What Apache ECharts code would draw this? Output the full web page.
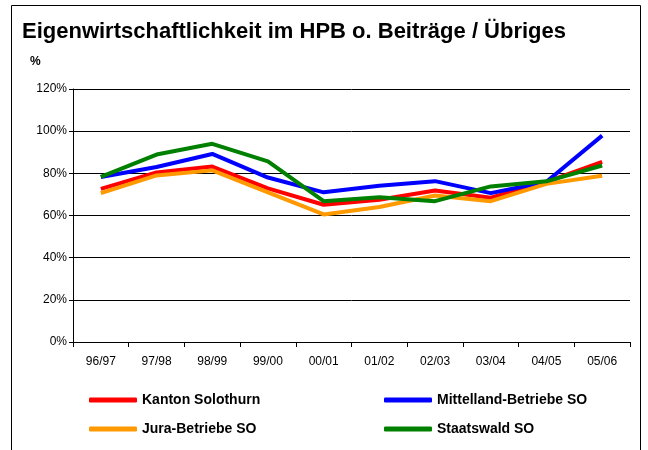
<!DOCTYPE html>
<html>
<head>
<meta charset="utf-8">
<script src="https://cdn.jsdelivr.net/npm/echarts@6/dist/echarts.min.js"></script>
<style>
  html, body { margin: 0; padding: 0; background: #fff; }
  #chart { width: 648px; height: 450px; }
</style>
</head>
<body>
<div id="chart"></div>
<script>
// Jahre
var categories = ["96/97", "97/98", "98/99", "99/00", "00/01", "01/02", "02/03", "03/04", "04/05", "05/06"];
var yTicks = [0, 20, 40, 60, 80, 100, 120];

var kantonSolothurn = [72.6, 80.4, 83.2, 72.9, 65.1, 67.5, 71.9, 68.4, 75.9, 85.4];
var mittellandBetriebe = [78.3, 83.0, 89.2, 78.0, 71.0, 74.1, 76.3, 70.6, 76.0, 97.9];
var juraBetriebe = [70.6, 79.0, 81.4, 71.0, 60.5, 64.0, 69.5, 66.8, 75.0, 78.9];
var staatswald = [78.3, 88.9, 94.0, 85.7, 66.8, 68.7, 66.8, 73.8, 76.2, 83.7];

var seriesNames = ["Kanton Solothurn", "Mittelland-Betriebe SO", "Jura-Betriebe SO", "Staatswald SO"];
var seriesColors = ["#FF0000", "#0000FF", "#FF9900", "#008000"];
var seriesData = [kantonSolothurn, mittellandBetriebe, juraBetriebe, staatswald];

var chart = echarts.init(document.getElementById("chart"));

var legendPos = [
  { left: 84, top: 388 },
  { left: 379, top: 388 },
  { left: 84, top: 417 },
  { left: 379, top: 417 },
];

var options = {
  animation: false,
  textStyle: { fontFamily: "Liberation Sans, Arial, sans-serif" },
  title: {
    text: "Eigenwirtschaftlichkeit im HPB o. Beiträge / Übriges",
    left: 17,
    top: 16,
    textStyle: { fontSize: 22, fontWeight: "bold", color: "#000" },
  },
  graphic: [
    {
      type: "rect",
      shape: { x: 11.5, y: 5.5, width: 629, height: 460 },
      style: { fill: "none", stroke: "#000", lineWidth: 1 },
      silent: true,
    },
    {
      type: "text",
      left: 30,
      top: 56,
      style: { text: "%", font: "bold 12px Liberation Sans, Arial", fill: "#000" },
    },
  ],
  legend: legendPos.map(function (p, i) {
    return {
      data: [seriesNames[i]],
      left: p.left,
      top: p.top,
      icon: "roundRect",
      itemWidth: 48,
      itemHeight: 5,
      itemGap: 0,
      textStyle: { fontSize: 14, fontWeight: "bold", color: "#000" },
    };
  }),
  grid: { left: 73, right: 18, top: 89, bottom: 108 },
  xAxis: {
    type: "category",
    data: categories,
    boundaryGap: true,
    axisLine: { show: true, lineStyle: { color: "#000", width: 1 } },
    axisTick: { show: true, length: 5, lineStyle: { color: "#000" } },
    axisLabel: { color: "#000", fontSize: 12, margin: 14 },
  },
  yAxis: {
    type: "value",
    min: yTicks[0],
    max: yTicks[yTicks.length - 1],
    interval: 20,
    axisLine: { show: true, lineStyle: { color: "#000", width: 1 } },
    axisTick: { show: true, length: 4, lineStyle: { color: "#000" } },
    axisLabel: { color: "#000", fontSize: 12, margin: 6, formatter: "{value}%" },
    splitLine: { show: true, lineStyle: { color: "#000", width: 1 } },
  },
  series: seriesNames.map(function (name, i) {
    return {
      name: name,
      type: "line",
      data: seriesData[i],
      showSymbol: false,
      symbol: "none",
      z: 2 + i,
      lineStyle: { color: seriesColors[i], width: 4 },
      itemStyle: { color: seriesColors[i] },
    };
  }),
};

chart.setOption(options, true);
</script>
</body>
</html>
